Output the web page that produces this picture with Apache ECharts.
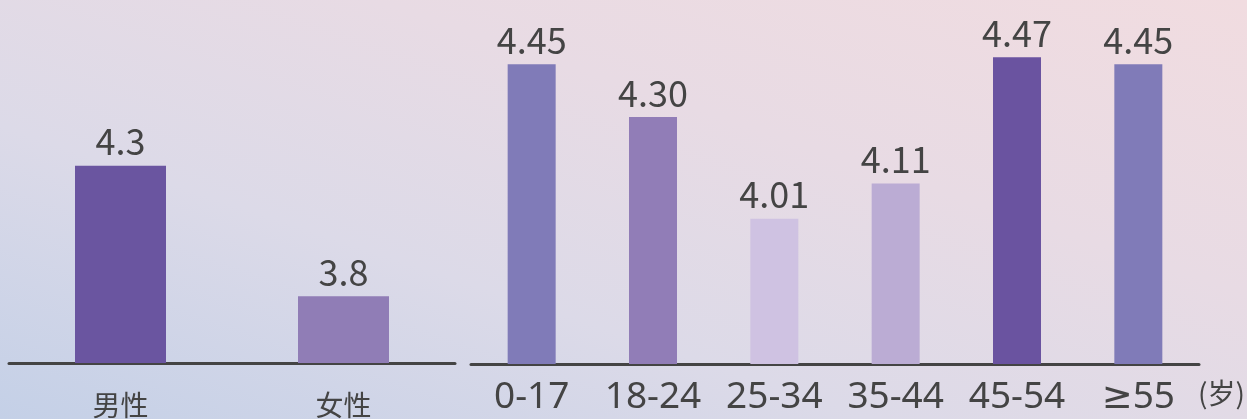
<!DOCTYPE html>
<html>
<head>
<meta charset="utf-8">
<script src="https://cdn.jsdelivr.net/npm/echarts@6/dist/echarts.min.js"></script>
<style>
html,body{margin:0;padding:0;width:1247px;height:419px;overflow:hidden;
background:linear-gradient(to top right,#c4d0e7 0%,#dcdae8 35%,#e8dbe4 65%,#f1dce0 100%);}
#c{width:1247px;height:419px;}
</style>
</head>
<body>
<div id="c"></div>
<script>
const genderCats = ['男性', '女性'];
const genderVals = [4.3, 3.8];
const genderLabels = ['4.3', '3.8'];
const ageCats = ['0-17', '18-24', '25-34', '35-44', '45-54', '≥55'];
const ageVals = [4.45, 4.30, 4.01, 4.11, 4.47, 4.45];
const ageLabels = ['4.45', '4.30', '4.01', '4.11', '4.47', '4.45'];
const unitText = '(岁)';

const genderColors = ['#6a55a0', '#907db6'];
const ageColors = ['#807bb8', '#917db7', '#cfc2e2', '#bbacd4', '#6a53a0', '#807bb8'];

const FONT = '"Noto Sans CJK SC", "Noto Sans", sans-serif';
const LATIN = '"Noto Sans", "DejaVu Sans", "Noto Sans CJK SC", sans-serif';
const chart = echarts.init(document.getElementById('c'), null, {renderer: 'canvas'});

const axisLineStyle = {show: true, lineStyle: {color: '#444', width: 3}};

chart.setOption({
  backgroundColor: 'transparent',
  animation: false,
  grid: [
    {left: 9, width: 446, top: 113.5, bottom: 55},
    {left: 471, width: 728, top: 11.6, bottom: 55}
  ],
  xAxis: [
    {type: 'category', gridIndex: 0, data: genderCats, axisLine: axisLineStyle,
     axisTick: {show: false},
     axisLabel: {interval: 0, color: '#444', fontSize: 28, fontFamily: FONT, margin: 28}},
    {type: 'category', gridIndex: 1, data: ageCats, axisLine: axisLineStyle,
     axisTick: {show: false},
     axisLabel: {interval: 0, color: '#444', fontSize: 37, fontFamily: LATIN, margin: 15}}
  ],
  yAxis: [
    {type: 'value', gridIndex: 0, min: 3.544, max: 4.5, show: false, splitLine: {show: false}},
    {type: 'value', gridIndex: 1, min: 3.596, max: 4.6, show: false, splitLine: {show: false}}
  ],
  series: [
    {type: 'bar', xAxisIndex: 0, yAxisIndex: 0, barWidth: 91,
     data: genderVals.map((v, i) => ({value: v, itemStyle: {color: genderColors[i]}})),
     label: {show: true, position: 'top', distance: 6, color: '#444', fontSize: 36, fontFamily: FONT,
       formatter: p => genderLabels[p.dataIndex]}},
    {type: 'bar', xAxisIndex: 1, yAxisIndex: 1, barWidth: 48,
     data: ageVals.map((v, i) => ({value: v, itemStyle: {color: ageColors[i]}})),
     label: {show: true, position: 'top', distance: 6, color: '#444', fontSize: 36, fontFamily: FONT,
       formatter: p => ageLabels[p.dataIndex]}}
  ],
  graphic: [
    {type: 'text', left: 1198, top: 379,
     style: {text: unitText, fill: '#444', fontSize: 28, fontFamily: FONT}}
  ]
});
</script>
</body>
</html>
